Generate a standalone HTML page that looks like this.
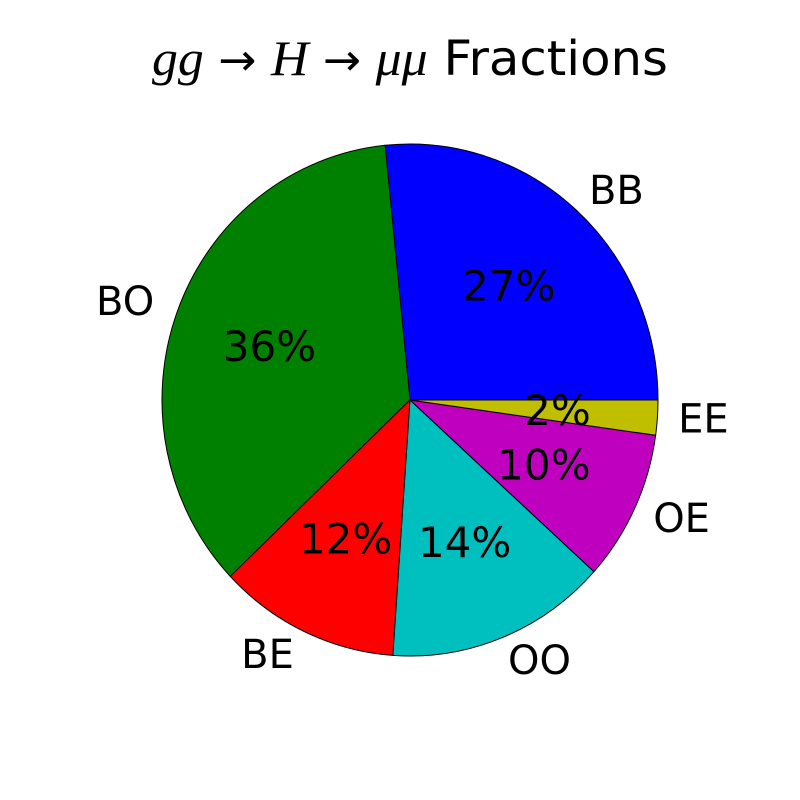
<!DOCTYPE html>
<html><head><meta charset="utf-8"><style>
html,body{margin:0;padding:0;background:#fff;}
svg{display:block;}
</style></head><body>
<svg id="chart" width="800" height="800" viewBox="0 0 800 800">
<rect width="800" height="800" fill="#fff"/>
<text x="152" y="75" textLength="516" lengthAdjust="spacingAndGlyphs" font-size="48"><tspan font-family="Liberation Serif, serif" font-style="italic" font-size="50">gg</tspan><tspan font-family="DejaVu Sans, sans-serif" font-size="44"> → </tspan><tspan font-family="Liberation Serif, serif" font-style="italic" font-size="50">H</tspan><tspan font-family="DejaVu Sans, sans-serif" font-size="44"> → </tspan><tspan font-family="Liberation Serif, serif" font-style="italic" font-size="50">μμ</tspan><tspan font-family="DejaVu Sans, sans-serif"> Fractions</tspan></text>
<g id="slices"></g>
<g id="labels"></g>
</svg>
<script>
const categories = ["BB","BO","BE","OO","OE","EE"];
const values = [26.6, 35.5, 11.8, 14.4, 9.5, 2.2];
const pctLabels = ["27%","36%","12%","14%","10%","2%"];
const colors = ["#0000ff","#008000","#ff0000","#00bfbf","#bf00bf","#bfbf00"];

const cx=410, cy=400, rx=248, ry=256;
const NS="http://www.w3.org/2000/svg";
const total = values.reduce((a,b)=>a+b,0);
function pt(angDeg, f){const a=angDeg*Math.PI/180;return [cx+f*rx*Math.cos(a), cy-f*ry*Math.sin(a)];}
const gS=document.getElementById('slices'), gL=document.getElementById('labels');
let start=0;
values.forEach((v,i)=>{
  const sweep=v/total*360, end=start+sweep;
  const [x1,y1]=pt(start,1),[x2,y2]=pt(end,1);
  const p=document.createElementNS(NS,'path');
  p.setAttribute('d',`M${cx},${cy} L${x1},${y1} A${rx},${ry} 0 ${sweep>180?1:0} 0 ${x2},${y2} Z`);
  p.setAttribute('fill',colors[i]);
  p.setAttribute('stroke','#000');
  p.setAttribute('stroke-width','1');
  
  
  gS.appendChild(p);
  const mid=(start+end)/2;
  const [lx,ly]=pt(mid,1.1);
  const right=Math.cos(mid*Math.PI/180)>0;
  const t=document.createElementNS(NS,'text');
  t.setAttribute('x',lx+(right?-4:0));t.setAttribute('y',ly);
  t.setAttribute('text-anchor', right?'start':'end');
  t.setAttribute('dominant-baseline','central');
  t.setAttribute('font-family','DejaVu Sans, sans-serif');
  t.setAttribute('font-size','40');
  t.textContent=categories[i];
  
  
  gL.appendChild(t);
  const [px,py]=pt(mid,0.6);
  const q=document.createElementNS(NS,'text');
  q.setAttribute('x',px-1);q.setAttribute('y',py);
  q.setAttribute('text-anchor','middle');
  q.setAttribute('dominant-baseline','central');
  q.setAttribute('font-family','DejaVu Sans, sans-serif');
  q.setAttribute('font-size','42');
  q.textContent=pctLabels[i];
  
  
  gL.appendChild(q);
  start=end;
});
</script>
</body></html>
